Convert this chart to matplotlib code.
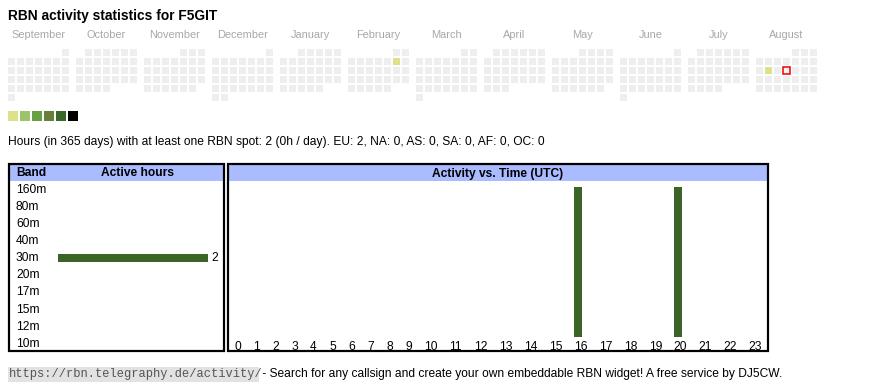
import datetime as dt
import calendar
import matplotlib
matplotlib.use("Agg")
import matplotlib.pyplot as plt
from matplotlib.patches import Rectangle
from matplotlib import transforms

# ---------------- data ----------------
title = "RBN activity statistics for F5GIT"
month_names = ["September", "October", "November", "December", "January", "February",
               "March", "April", "May", "June", "July", "August"]
month_years = [2024, 2024, 2024, 2024, 2025, 2025, 2025, 2025, 2025, 2025, 2025, 2025]
month_numbers = [9, 10, 11, 12, 1, 2, 3, 4, 5, 6, 7, 8]
active_dates = ["2025-02-08", "2025-08-12"]
active_day_hours = [1, 1]
today = "2025-08-14"
level_colors = ["#dbe28a", "#9cc36a", "#67a045", "#687f3b", "#3a6828", "#000000"]
summary = ("Hours (in 365 days) with at least one RBN spot: 2 (0h / day). "
           "EU: 2, NA: 0, AS: 0, SA: 0, AF: 0, OC: 0")
bands = ["160m", "80m", "60m", "40m", "30m", "20m", "17m", "15m", "12m", "10m"]
band_hours = [0, 0, 0, 0, 2, 0, 0, 0, 0, 0]
hour_labels = ["0", "1", "2", "3", "4", "5", "6", "7", "8", "9", "10", "11",
               "12", "13", "14", "15", "16", "17", "18", "19", "20", "21", "22", "23"]
hour_activity = [0, 0, 0, 0, 0, 0, 0, 0, 0, 0, 0, 0,
                 0, 0, 0, 0, 1, 0, 0, 0, 1, 0, 0, 0]
footer_url = "https://rbn.telegraphy.de/activity/"
footer_text = " - Search for any callsign and create your own embeddable RBN widget! A free service by DJ5CW."

# ---------------- style ----------------
W, H = 870, 390
BAR_GREEN = "#3c6429"
HEAD_BLUE = "#aabbff"
EMPTY = "#eeeeee"
SANS = ["Liberation Sans", "DejaVu Sans"]
MONO = ["Liberation Mono", "DejaVu Sans Mono"]
plt.rcParams["font.family"] = SANS


def pt(px):
    return px * 0.72


fig = plt.figure(figsize=(W / 100, H / 100), dpi=100)
fig.patch.set_facecolor("white")


def px_axes(x0, y0, x1, y1, z=1):
    ax = fig.add_axes([x0 / W, 1 - y1 / H, (x1 - x0) / W, (y1 - y0) / H], zorder=z)
    ax.set_facecolor("none")
    ax.axis("off")
    return ax


page = px_axes(0, 0, W, H, z=0)
page.set_xlim(0, W)
page.set_ylim(H, 0)

# title
page.text(8, 16, title, fontsize=pt(13.8), fontweight="bold", va="center", ha="left")

# ---------------- calendar ----------------
PITCH = 9.0
CELL = 7.0 / PITCH
MONTH_STEP = 68.0 / PITCH
n_months = len(month_names)
cal_w_units = (n_months - 1) * MONTH_STEP + 7
ax_cal = px_axes(8, 49, 8 + cal_w_units * PITCH, 49 + 6 * PITCH, z=2)
ax_cal.set_xlim(0, cal_w_units)
ax_cal.set_ylim(6, 0)

act = {dt.date.fromisoformat(d): h for d, h in zip(active_dates, active_day_hours)}
today_d = dt.date.fromisoformat(today)

for m, (yy, mm) in enumerate(zip(month_years, month_numbers)):
    first_wd, ndays = calendar.monthrange(yy, mm)
    for day in range(1, ndays + 1):
        d = dt.date(yy, mm, day)
        col = d.weekday()
        row = (day - 1 + first_wd) // 7
        h = act.get(d, 0)
        fc = level_colors[min(h, len(level_colors)) - 1] if h > 0 else EMPTY
        x = m * MONTH_STEP + col
        if d == today_d:
            ax_cal.add_patch(Rectangle((x + 0.03, row + 0.03), CELL - 0.06, CELL - 0.06,
                                       facecolor="#f4f4f4", edgecolor="#ee0000",
                                       linewidth=1.1))
        else:
            ax_cal.add_patch(Rectangle((x, row), CELL, CELL, facecolor=fc, edgecolor="none"))

cal_x = transforms.blended_transform_factory(ax_cal.transData, page.transData)
for m, name in enumerate(month_names):
    page.text(m * MONTH_STEP + 3.5 - 1 / PITCH, 35, name, transform=cal_x,
              fontsize=pt(11), color="#a8a8a8", ha="center", va="center")

# level legend
for i, c in enumerate(level_colors):
    page.add_patch(Rectangle((8 + 12 * i, 111), 10, 10, facecolor=c, edgecolor="none"))

# summary
page.text(8, 142, summary, fontsize=pt(12), va="center", ha="left")

# ---------------- tables ----------------
page.add_patch(Rectangle((9, 164), 215, 187, facecolor="none", edgecolor="black", linewidth=pt(2.2), zorder=5))
page.add_patch(Rectangle((228, 164), 540, 187, facecolor="none", edgecolor="black", linewidth=pt(2.2), zorder=5))
page.add_patch(Rectangle((10, 165), 213, 16, facecolor=HEAD_BLUE, edgecolor="none"))
page.add_patch(Rectangle((229, 165), 538, 16, facecolor=HEAD_BLUE, edgecolor="none"))
page.text(16, 173.5, "Band", fontsize=pt(12), fontweight="bold", va="center", ha="left")
page.text(138, 173.5, "Active hours", fontsize=pt(12), fontweight="bold", va="center", ha="center")
page.text(498, 173.5, "Activity vs. Time (UTC)", fontsize=pt(12), fontweight="bold", va="center", ha="center")

# band bars
ax_band = px_axes(58, 181, 208, 352, z=2)
ax_band.set_xlim(0, max(band_hours))
ax_band.set_ylim(len(bands) - 0.5, -0.5)
bars = ax_band.barh(range(len(bands)), band_hours, height=0.42, color=BAR_GREEN)
ax_band.bar_label(bars, labels=[str(v) if v else "" for v in band_hours], padding=pt(3),
                  fontsize=pt(12), fontfamily=SANS)
band_tr = transforms.blended_transform_factory(page.transData, ax_band.transData)
for i, b in enumerate(bands):
    page.text(16, i + 0.02, b, transform=band_tr, fontsize=pt(12), va="center", ha="left")

# hour bars: cell widths follow label widths as in the HTML table
cell_w = [13 + 6 * len(s) for s in hour_labels]
centers = []
acc = 0
for w in cell_w:
    centers.append(acc + w / 2)
    acc += w
BAR_SHIFT = -2.5
ax_hour = px_axes(228.5, 187, 228.5 + acc, 337, z=2)
ax_hour.set_xlim(0, acc)
ax_hour.set_ylim(0, max(hour_activity))
ax_hour.bar([c + BAR_SHIFT for c in centers], hour_activity, width=8, color=BAR_GREEN)
hour_tr = transforms.blended_transform_factory(ax_hour.transData, page.transData)
for c, s in zip(centers, hour_labels):
    page.text(c - 0.5, 346.5, s, transform=hour_tr, fontsize=pt(12), va="center", ha="center")

# ---------------- footer ----------------
page.add_patch(Rectangle((8, 367), 251, 15, facecolor="#e2e2e2", edgecolor="none"))
page.text(9, 374.5, footer_url, fontsize=pt(12), fontfamily=MONO, color="#555555",
          va="center", ha="left")
page.text(259, 374.5, footer_text, fontsize=pt(12), va="center", ha="left")

fig.savefig("out.png", dpi=100, facecolor="white")
